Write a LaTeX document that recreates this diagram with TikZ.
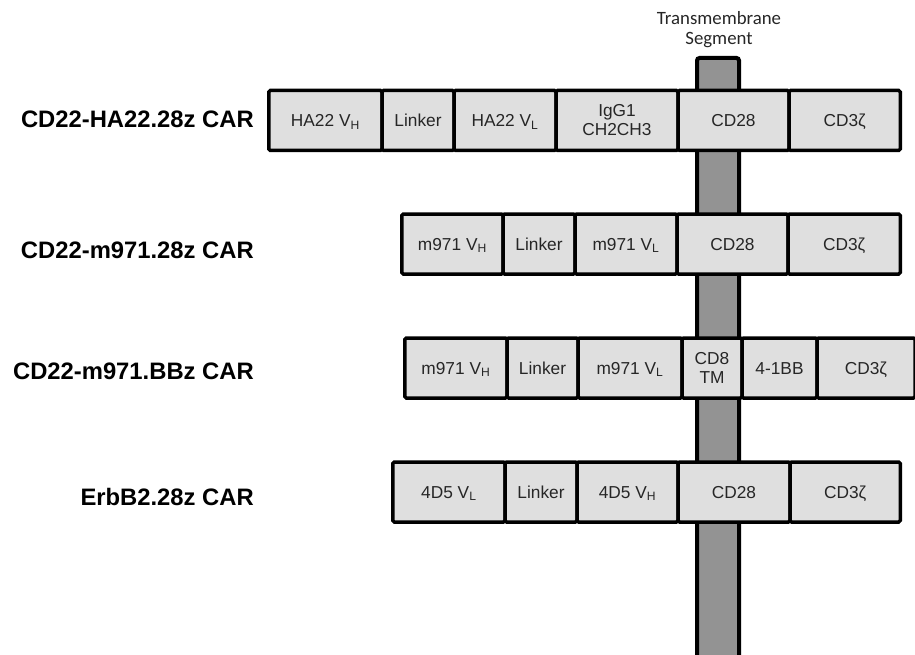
\documentclass[tikz,border=0pt]{standalone}
\usepackage{fontspec}
\setmainfont{Liberation Sans}
\newfontfamily\tmfont{Carlito}
\usepackage{tikz}
\usetikzlibrary{positioning}
\definecolor{boxgray}{HTML}{DFDFDF}
\definecolor{bargray}{HTML}{939393}
\newcommand\vsub[1]{V\smash{\textsubscript{#1}}}
\newcommand\cdz{CD3\smash{ζ}}

\begin{document}
\begin{tikzpicture}[
  x=1pt,y=-1pt,
  node distance=0pt,
  dom/.style={rectangle,rounded corners=1.5pt,draw=black,fill=boxgray,
              line width=3.5pt,minimum height=60pt,inner sep=0pt,outer sep=0pt,
              text height=12.4pt,text depth=0pt,
              font=\fontsize{17.3}{19}\selectfont,text=black!85,align=center},
  twoline/.style={text height=,text depth=},
  car/.style={anchor=east,inner sep=0pt,font=\fontsize{23.8}{27}\selectfont\bfseries},
  tmbar/.style={rectangle,rounded corners=2.5pt,draw=black,fill=bargray,
              line width=4pt,minimum width=42pt,minimum height=640pt,
              inner sep=0pt,outer sep=0pt,anchor=north}
]
  \useasboundingbox (0,0) rectangle (915,655);

  % membrane segment behind the rows
  \node[tmbar] (tm) at (718,58) {};
  \node[font=\tmfont\fontsize{18.8}{20}\selectfont,align=center,text=black!85]
    (tmlab) at (719,30) {Transmembrane\\Segment};

  % CD22-HA22.28z
  \node[car] (car1) at (254,119) {CD22-HA22.28z CAR};
  \node[dom,minimum width=113.25pt,anchor=west] (hvh) at (268.75,120.5) {HA22 \vsub{H}};
  \node[dom,minimum width=72pt,right=of hvh]    (hlk)  {Linker};
  \node[dom,minimum width=102pt,right=of hlk]   (hvl)  {HA22 \vsub{L}};
  \node[dom,twoline,minimum width=122pt,right=of hvl] (higg) {IgG1\\CH2CH3};
  \node[dom,minimum width=111pt,right=of higg]  (hcd)  {CD28};
  \node[dom,minimum width=111.25pt,right=of hcd] (hz)  {\cdz};

  % CD22-m971.28z
  \node[car] (car2) at (254,250) {CD22-m971.28z CAR};
  \node[dom,minimum width=101.25pt,anchor=west] (mvh) at (401.75,244) {m971 \vsub{H}};
  \node[dom,minimum width=72pt,right=of mvh]    (mlk)  {Linker};
  \node[dom,minimum width=102pt,right=of mlk]   (mvl)  {m971 \vsub{L}};
  \node[dom,minimum width=111pt,right=of mvl]   (mcd)  {CD28};
  \node[dom,minimum width=112.25pt,right=of mcd] (mz)  {\cdz};

  % CD22-m971.BBz
  \node[car] (car3) at (254,371) {CD22-m971.BBz CAR};
  \node[dom,minimum width=102.25pt,anchor=west] (bvh) at (404.75,368) {m971 \vsub{H}};
  \node[dom,minimum width=71pt,right=of bvh]    (blk)  {Linker};
  \node[dom,minimum width=104pt,right=of blk]   (bvl)  {m971 \vsub{L}};
  \node[dom,twoline,minimum width=60pt,right=of bvl] (bcd8) {CD8\\TM};
  \node[dom,minimum width=75pt,right=of bcd8]   (bbb)  {4-1BB};
  \node[dom,minimum width=98pt,right=of bbb]    (bz)   {\cdz};

  % ErbB2.28z
  \node[car] (car4) at (254,497) {ErbB2.28z CAR};
  \node[dom,minimum width=112.25pt,anchor=west] (evl) at (392.75,492) {4D5 \vsub{L}};
  \node[dom,minimum width=72pt,right=of evl]    (elk)  {Linker};
  \node[dom,minimum width=101pt,right=of elk]   (evh)  {4D5 \vsub{H}};
  \node[dom,minimum width=112pt,right=of evh]   (ecd)  {CD28};
  \node[dom,minimum width=110.25pt,right=of ecd] (ez)  {\cdz};
\end{tikzpicture}
\end{document}
